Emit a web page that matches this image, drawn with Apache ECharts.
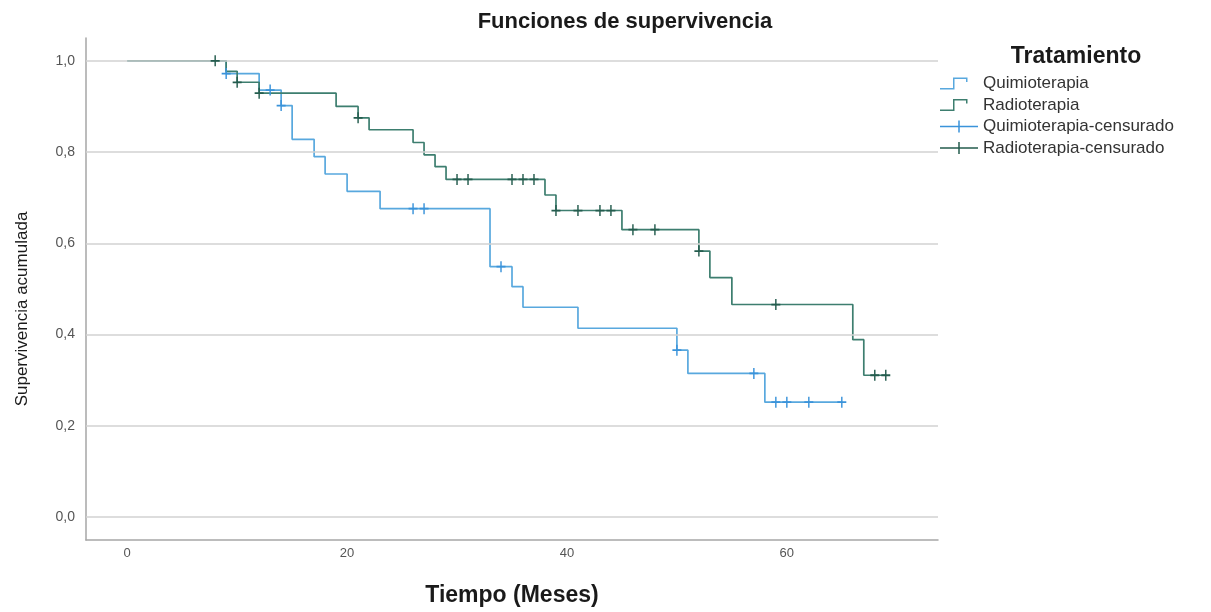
<!DOCTYPE html>
<html><head><meta charset="utf-8">
<script src="https://cdn.jsdelivr.net/npm/echarts@6/dist/echarts.min.js"></script>
<style>html,body{margin:0;padding:0;background:#fff}#c{width:1211px;height:612px}</style>
</head><body><div id="c"></div>
<script>
// ---- data ----
const quimioTimes = [0, 9, 12, 14, 15, 17, 18, 20, 23, 33, 35, 36, 41, 50, 51, 58, 65];
const quimioSurv  = [1.0, 0.972, 0.936, 0.902, 0.828, 0.790, 0.752, 0.714, 0.676, 0.549, 0.505, 0.460, 0.414, 0.366, 0.315, 0.252, 0.252];
const radioTimes  = [0, 9, 10, 12, 19, 21, 22, 26, 27, 28, 29, 38, 39, 45, 52, 53, 55, 66, 67, 69];
const radioSurv   = [1.0, 0.977, 0.953, 0.929, 0.900, 0.875, 0.849, 0.821, 0.794, 0.768, 0.740, 0.706, 0.672, 0.630, 0.583, 0.525, 0.466, 0.389, 0.311, 0.311];
const quimioCensT = [9, 13, 14, 26, 27, 34, 50, 57, 59, 60, 62, 65];
const quimioCensS = [0.972, 0.936, 0.902, 0.676, 0.676, 0.549, 0.366, 0.315, 0.252, 0.252, 0.252, 0.252];
const radioCensT  = [8, 10, 12, 21, 30, 31, 35, 36, 37, 39, 41, 43, 44, 46, 48, 52, 59, 68, 69];
const radioCensS  = [1.0, 0.953, 0.929, 0.875, 0.740, 0.740, 0.740, 0.740, 0.740, 0.672, 0.672, 0.672, 0.672, 0.630, 0.630, 0.583, 0.466, 0.311, 0.311];
const yTicks = [0, 0.2, 0.4, 0.6, 0.8, 1.0];
const xTicks = [0, 20, 40, 60];
const seriesNames = ['Quimioterapia', 'Radioterapia', 'Quimioterapia-censurado', 'Radioterapia-censurado'];

// ---- styles ----
const C_Q = '#58a8de', C_R = '#3d7e6f', C_QC = '#3a93da', C_RC = '#245c4e';
const plusSym = 'path://M4.2,0H5.8V4.2H10V5.8H5.8V10H4.2V5.8H0V4.2H4.2Z';
const stepIcon = 'path://M0,10.5H13V0H27.5V4.5H26V1.5H14.5V12H0ZM37.95,5.99H38V6H37.95Z';
const plusIcon = 'path://M0,5.25H38V6.75H0ZM18.25,0H19.75V12H18.25Z';
const zip = (a, b) => a.map((v, i) => [v, b[i]]);

const chart = echarts.init(document.getElementById('c'));
chart.setOption({
  animation: false,
  backgroundColor: '#fff',
  textStyle: { fontFamily: 'Liberation Sans, Arial, sans-serif' },
  title: [
    { text: 'Funciones de supervivencia', left: 620, top: 6, textAlign: 'center',
      textStyle: { fontSize: 22, fontWeight: 'bold', color: '#1a1a1a' } },
    { text: 'Tratamiento', left: 1071, top: 40, textAlign: 'center',
      textStyle: { fontSize: 23, fontWeight: 'bold', color: '#1a1a1a' } }
  ],
  legend: {
    orient: 'vertical', left: 940, top: 75, padding: 0,
    itemWidth: 38, itemHeight: 12, itemGap: 4.5,
    textStyle: { fontSize: 17, lineHeight: 17, color: '#333' },
    data: [
      { name: seriesNames[0], icon: stepIcon, itemStyle: { color: C_Q, borderWidth: 0 } },
      { name: seriesNames[1], icon: stepIcon, itemStyle: { color: C_R, borderWidth: 0 } },
      { name: seriesNames[2], icon: plusIcon, itemStyle: { color: C_QC, borderWidth: 0 } },
      { name: seriesNames[3], icon: plusIcon, itemStyle: { color: C_RC, borderWidth: 0 } }
    ]
  },
  grid: { left: 86, right: 273, top: 38, bottom: 70 },
  xAxis: {
    type: 'value', min: -3.75, max: 73.75, interval: 1.25,
    name: 'Tiempo (Meses)', nameLocation: 'middle', nameGap: 44,
    nameTextStyle: { fontSize: 23, fontWeight: 'bold', color: '#1a1a1a' },
    axisLine: { show: true, onZero: false, lineStyle: { color: '#a6a6a6', width: 1.5 } },
    axisTick: { show: false },
    splitLine: { show: false },
    axisLabel: { margin: 7, fontSize: 13, color: '#555',
      formatter: v => { const r = Math.round(v); return (Math.abs(v - r) < 1e-6 && xTicks.includes(r)) ? String(r) : ''; } }
  },
  yAxis: {
    type: 'value', min: -0.05, max: 1.05, interval: 0.05,
    name: 'Supervivencia acumulada', nameLocation: 'middle', nameGap: 55, nameRotate: 90,
    nameTextStyle: { fontSize: 17, color: '#1a1a1a', padding: [0, 40, 0, 0] },
    axisLine: { show: true, onZero: false, lineStyle: { color: '#a6a6a6', width: 1.5 } },
    axisTick: { show: false },
    splitLine: { show: false },
    axisLabel: { margin: 11, fontSize: 14, color: '#555',
      formatter: v => { const k = Math.round(v * 5); return (Math.abs(v * 5 - k) < 1e-6 && yTicks.includes(k / 5)) ? (k / 5).toFixed(1).replace('.', ',') : ''; } }
  },
  series: [
    { name: '_grid', type: 'line', data: [], z: 1, silent: true,
      markLine: { silent: true, symbol: ['none', 'none'], label: { show: false }, animation: false,
        lineStyle: { color: '#d2d2d2', width: 1.5, type: 'solid' },
        emphasis: { disabled: true },
        data: yTicks.map(v => ({ yAxis: v })) } },
    { name: seriesNames[0], type: 'line', step: 'end', showSymbol: false, z: 3,
      data: zip(quimioTimes, quimioSurv), color: C_Q,
      lineStyle: { color: C_Q, width: 1.7 }, itemStyle: { color: C_Q } },
    { name: seriesNames[1], type: 'line', step: 'end', showSymbol: false, z: 4,
      data: zip(radioTimes, radioSurv), color: C_R,
      lineStyle: { color: C_R, width: 1.7 }, itemStyle: { color: C_R } },
    { name: seriesNames[2], type: 'scatter', symbol: plusSym, symbolSize: [9, 11], z: 5,
      data: zip(quimioCensT, quimioCensS), itemStyle: { color: C_QC, opacity: 1 } },
    { name: seriesNames[3], type: 'scatter', symbol: plusSym, symbolSize: [9, 11], z: 6,
      data: zip(radioCensT, radioCensS), itemStyle: { color: C_RC, opacity: 1 } }
  ]
});
</script></body></html>
